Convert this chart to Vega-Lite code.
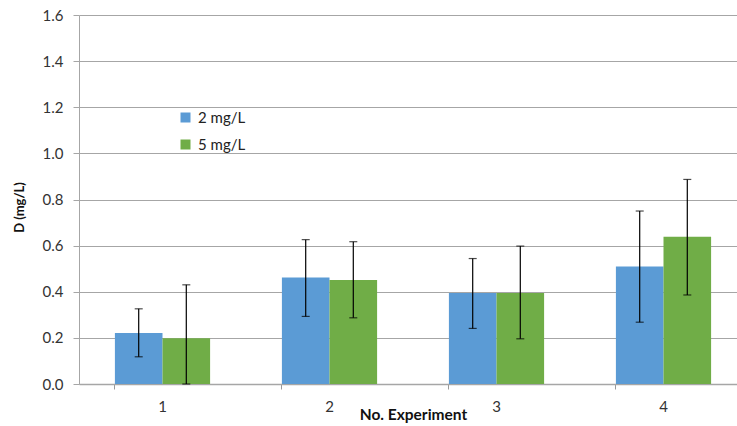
{
  "$schema": "https://vega.github.io/schema/vega-lite/v6.json",
  "width": 668,
  "height": 369,
  "autosize": {"type": "none"},
  "padding": {"left": 79, "top": 15, "right": 0, "bottom": 42},
  "background": "white",
  "config": {
    "view": {"stroke": null},
    "font": "Lato",
    "axis": {"labelFont": "Lato", "titleFont": "Lato", "labelColor": "#333333", "titleColor": "#111111"}
  },
  "data": {
    "values": [
      {"experiment": "1", "dose": "2 mg/L", "D": 0.221, "lo": 0.118, "hi": 0.326},
      {"experiment": "1", "dose": "5 mg/L", "D": 0.198, "lo": 0.0, "hi": 0.43},
      {"experiment": "2", "dose": "2 mg/L", "D": 0.462, "lo": 0.293, "hi": 0.626},
      {"experiment": "2", "dose": "5 mg/L", "D": 0.451, "lo": 0.287, "hi": 0.617},
      {"experiment": "3", "dose": "2 mg/L", "D": 0.395, "lo": 0.241, "hi": 0.544},
      {"experiment": "3", "dose": "5 mg/L", "D": 0.395, "lo": 0.196, "hi": 0.598},
      {"experiment": "4", "dose": "2 mg/L", "D": 0.51, "lo": 0.268, "hi": 0.75},
      {"experiment": "4", "dose": "5 mg/L", "D": 0.638, "lo": 0.386, "hi": 0.887}
    ]
  },
  "encoding": {
    "x": {
      "field": "experiment",
      "type": "nominal",
      "scale": {"paddingInner": 0.43, "paddingOuter": 0.215},
      "axis": {
        "title": "No. Experiment",
        "titleFontSize": 15.5,
        "titleFontWeight": "bold",
        "titleBaseline": "top",
        "titleX": 334,
        "titleY": 23,
        "labelAngle": 0,
        "labelFontSize": 15,
        "labelPadding": 10,
        "ticks": true,
        "tickSize": 5,
        "tickColor": "#9a9a9a",
        "bandPosition": 0,
        "domainColor": "#a6a6a6",
        "domainWidth": 1.5
      }
    },
    "xOffset": {"field": "dose", "type": "nominal", "scale": {"paddingInner": 0, "paddingOuter": 0}}
  },
  "layer": [
    {
      "mark": {"type": "bar"},
      "encoding": {
        "y": {
          "field": "D",
          "type": "quantitative",
          "scale": {"domain": [0, 1.6], "nice": false},
          "axis": {
            "title": "D (mg/L)",
            "titleFontSize": 13,
            "titleFontWeight": "bold",
            "titleX": -60,
            "titleY": 192,
            "titleAngle": -90,
            "titleAlign": "center",
            "titleBaseline": "middle",
            "values": [0, 0.2, 0.4, 0.6, 0.8, 1.0, 1.2, 1.4, 1.6],
            "format": ".1f",
            "labelFontSize": 15,
            "labelPadding": 10,
            "tickSize": 6,
            "tickColor": "#a6a6a6",
            "gridColor": "#a6a6a6",
            "gridWidth": 1,
            "domainColor": "#a6a6a6",
            "domainWidth": 1
          }
        },
        "color": {
          "field": "dose",
          "type": "nominal",
          "scale": {"domain": ["2 mg/L", "5 mg/L"], "range": ["#5b9bd5", "#70ad47"]},
          "legend": {
            "title": null,
            "orient": "none",
            "legendX": 99,
            "legendY": 95,
            "symbolType": "square",
            "symbolSize": 100,
            "symbolStrokeWidth": 0,
            "labelFontSize": 15,
            "labelFont": "Lato",
            "labelColor": "#222222",
            "rowPadding": 11,
            "labelOffset": 5
          }
        }
      }
    },
    {
      "mark": {"type": "rule", "color": "black", "strokeWidth": 1.2},
      "encoding": {
        "y": {"field": "lo", "type": "quantitative"},
        "y2": {"field": "hi"}
      }
    },
    {
      "mark": {"type": "tick", "color": "black", "thickness": 1.2, "size": 8},
      "encoding": {"y": {"field": "lo", "type": "quantitative"}}
    },
    {
      "mark": {"type": "tick", "color": "black", "thickness": 1.2, "size": 8},
      "encoding": {"y": {"field": "hi", "type": "quantitative"}}
    }
  ]
}
